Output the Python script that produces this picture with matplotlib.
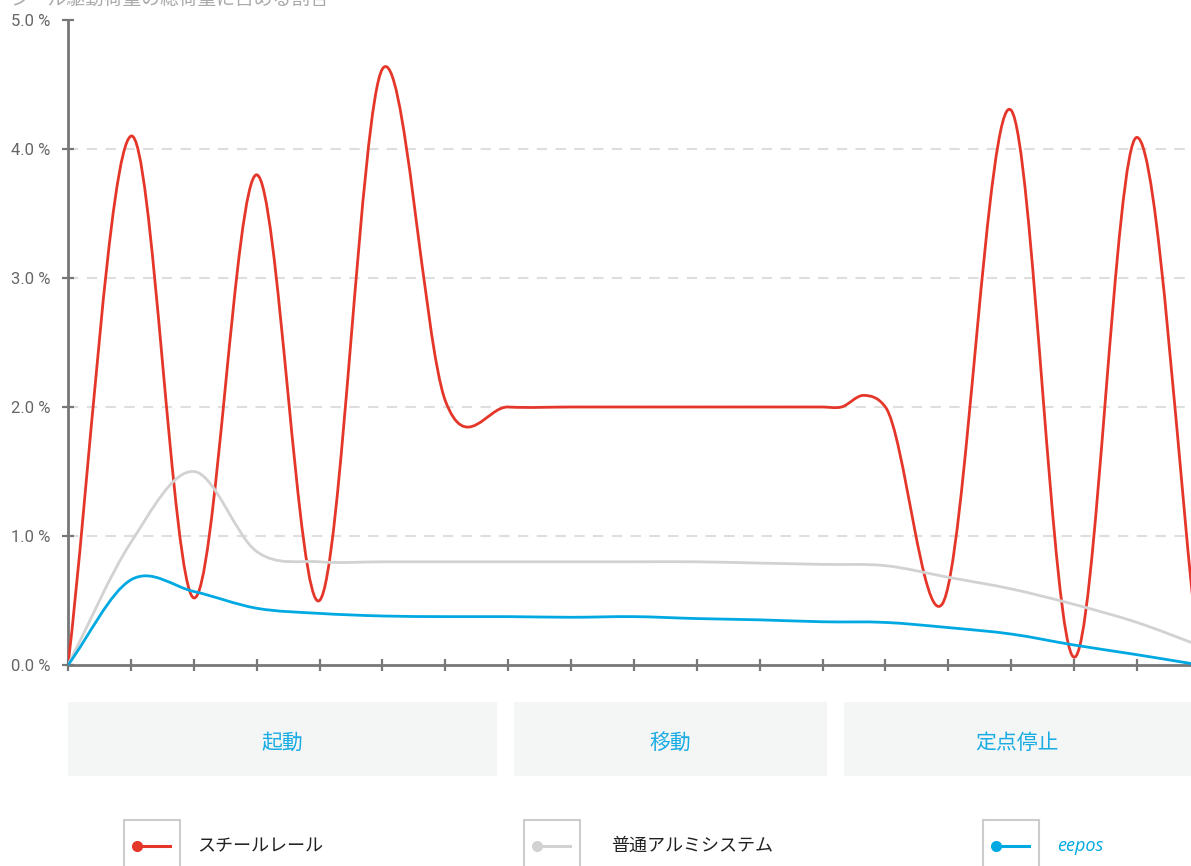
import numpy as np
import matplotlib
matplotlib.use("Agg")
import matplotlib.pyplot as plt
from matplotlib.path import Path
from matplotlib.patches import PathPatch, Rectangle
from matplotlib.lines import Line2D

plt.rcParams['font.family'] = ['Roboto', 'Noto Sans CJK JP', 'DejaVu Sans']

# --- data ---
title = "シール駆動荷重の総荷重に占める割合"
series_names = ["スチールレール", "普通アルミシステム", "eepos"]
series_colors = ["#e5362a", "#d2d2d2", "#00a9e2"]

steel_x = [0, 1, 2, 3, 4, 5, 6, 7, 8, 9, 10, 11, 12, 12.3, 12.65, 13, 13.9, 15, 16, 17, 18]
steel_y = [0, 4.1, 0.52, 3.8, 0.5, 4.62, 2.05, 2.0, 2.0, 2.0, 2.0, 2.0, 2.0, 2.0, 2.09, 2.0,
           0.47, 4.3, 0.06, 4.09, 0.0]

alu_x = list(range(19))
alu_y = [0, 0.95, 1.5, 0.88, 0.8, 0.8, 0.8, 0.8, 0.8, 0.8, 0.8, 0.79, 0.78, 0.77, 0.68,
         0.59, 0.47, 0.33, 0.15]

eepos_x = list(range(19))
eepos_y = [0, 0.66, 0.57, 0.44, 0.40, 0.38, 0.375, 0.375, 0.37, 0.375, 0.36, 0.35, 0.335,
           0.33, 0.29, 0.24, 0.155, 0.08, 0.0]

y_ticks = [0, 1, 2, 3, 4, 5]
y_labels = ["0.0 %", "1.0 %", "2.0 %", "3.0 %", "4.0 %", "5.0 %"]

phases = ["起動", "移動", "定点停止"]
phase_spans = [(0, 6.82), (7.1, 12.07), (12.34, 17.86)]


def smooth_path(xs, ys):
    # cubic hermite through the points, drawn as bezier segments
    xs = np.asarray(xs, float)
    ys = np.asarray(ys, float)
    n = len(xs)
    h = np.diff(xs)
    d = np.diff(ys) / h
    m = np.empty(n)
    m[1:-1] = (h[1:] * d[:-1] + h[:-1] * d[1:]) / (h[:-1] + h[1:])
    m[0] = d[0]
    m[-1] = d[-1]
    verts = [(xs[0], ys[0])]
    codes = [Path.MOVETO]
    for i in range(n - 1):
        dx = h[i]
        verts += [(xs[i] + dx / 3, ys[i] + m[i] * dx / 3),
                  (xs[i + 1] - dx / 3, ys[i + 1] - m[i + 1] * dx / 3),
                  (xs[i + 1], ys[i + 1])]
        codes += [Path.CURVE4] * 3
    return Path(verts, codes)


W, H = 1191, 866
fig = plt.figure(figsize=(W / 100, H / 100), dpi=100)
ax = fig.add_axes([68 / W, 1 - 665 / H, 1 - 68 / W, (665 - 20) / H])

ax.set_xlim(0, 17.86)
ax.set_ylim(0, 5)

for sp in ['top', 'right']:
    ax.spines[sp].set_visible(False)
for sp in ['left', 'bottom']:
    ax.spines[sp].set_color('#777777')
    ax.spines[sp].set_linewidth(2)

ax.set_xticks(range(0, 18))
ax.set_xticklabels([])
ax.set_yticks(y_ticks)
ax.set_yticklabels(y_labels)
ax.tick_params(axis='both', direction='inout', length=9, width=1.6, color='#777777',
               labelsize=12, labelcolor='#666666')
ax.tick_params(axis='y', pad=8)

for v in y_ticks[1:-1]:
    ax.axhline(v, color='#dedede', lw=1.5, ls=(0, (5, 4)), zorder=0)

for xs, ys, c, lw in [(steel_x, steel_y, series_colors[0], 2.0),
                      (alu_x, alu_y, series_colors[1], 2.0),
                      (eepos_x, eepos_y, series_colors[2], 2.0)]:
    ax.add_patch(PathPatch(smooth_path(xs, ys), fill=False, edgecolor=c, lw=lw,
                           capstyle='round', joinstyle='round', zorder=3))

# phase boxes under the axis
tr = ax.get_xaxis_transform()
box_top = (665 - 702) / 644
box_bot = (665 - 776) / 644
text_y = (665 - 743) / 644
for name, (a, b) in zip(phases, phase_spans):
    ax.add_patch(Rectangle((a, box_bot), b - a, box_top - box_bot, transform=tr,
                           facecolor='#f4f5f5', edgecolor='none', clip_on=False))
    ax.text((a + b) / 2, text_y, name, transform=tr, ha='center',
            va='center', fontsize=15, color='#19ace3', family=['Noto Sans CJK JP'])

# title, mostly cut off at the top edge
fig.text(10 / W, 1 - 10 / H, title, ha='left', va='bottom', fontsize=13.5,
         color='#aaaaaa', family=['Noto Sans CJK JP'])

# legend
leg_box_x = [124, 524, 983]
leg_text_x = [197, 611, 1057]
ly = 1 - 846 / H
for bx, txx, name, c in zip(leg_box_x, leg_text_x, series_names, series_colors):
    fig.add_artist(Rectangle((bx / W, -0.03), 56 / W, 0.03 + 46 / H, transform=fig.transFigure,
                             facecolor='white', edgecolor='#cccccc', lw=1.5))
    fig.add_artist(Line2D([(bx + 13) / W, (bx + 46) / W], [ly, ly], transform=fig.transFigure,
                          color=c, lw=2.2))
    fig.add_artist(Line2D([(bx + 13) / W], [ly], transform=fig.transFigure, marker='o',
                          markersize=7, color=c))
    if name == "eepos":
        fig.text(txx / W, ly, name, ha='left', va='center', fontsize=13, color=c,
                 style='italic', family=['Open Sans'])
    else:
        fig.text(txx / W, ly, name, ha='left', va='center', fontsize=13, color='#222222',
                 family=['Noto Sans CJK JP'])

fig.savefig("out.png", dpi=100)
